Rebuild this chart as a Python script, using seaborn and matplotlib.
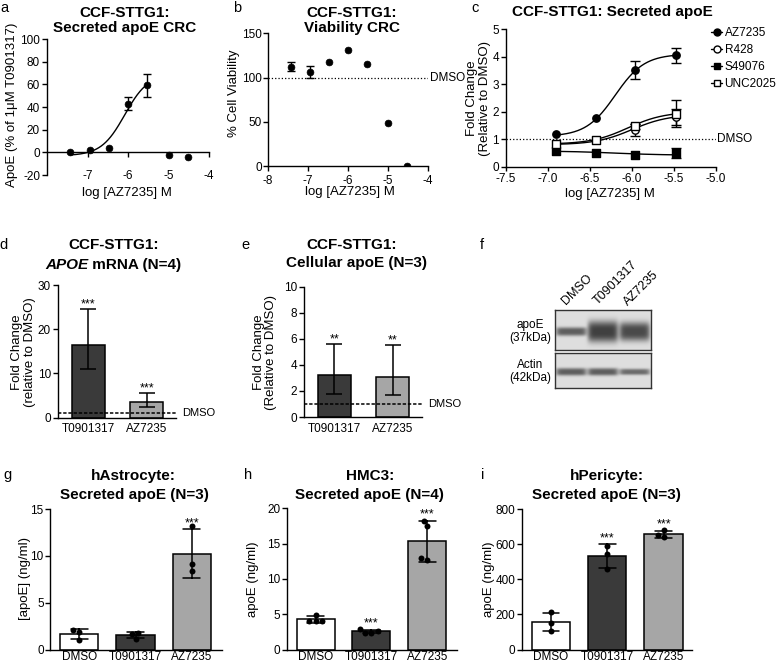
import numpy as np
import pandas as pd
import matplotlib
matplotlib.use("Agg")
import matplotlib.pyplot as plt
from matplotlib.lines import Line2D
import seaborn as sns

# ---------------- data ----------------
# a/b: concentration response curves, log [AZ7235] M
crc_logconc = [-7.43, -6.95, -6.48, -6.0, -5.52, -5.0, -4.52]
apoe_pct = [0.0, 2.5, 4.0, 43.0, 59.0, -2.5, -4.0]
apoe_pct_err = [0.0, 0.0, 0.0, 6.0, 10.0, 0.0, 0.0]
apoe_fit = (-3.0, 69.3, -6.08, 1.5)          # bottom, top, logEC50, hill
apoe_fit_span = (-7.43, -5.52)
viability = [112.0, 106.0, 117.5, 131.5, 115.5, 49.0, 0.0]
viability_err = [5.0, 7.0, 0.0, 0.0, 0.0, 0.0, 0.0]

# c: secreted apoE, fold change vs DMSO
c_logconc = [-6.9, -6.43, -5.96, -5.48]
c_compounds = ["AZ7235", "R428", "S49076", "UNC2025"]
c_az7235 = [1.2, 1.77, 3.52, 4.05]
c_az7235_err = [0.0, 0.0, 0.33, 0.27]
c_r428 = [0.84, 0.97, 1.33, 1.8]
c_r428_err = [0.0, 0.0, 0.22, 0.3]
c_s49076 = [0.56, 0.49, 0.41, 0.5]
c_s49076_err = [0.0, 0.0, 0.0, 0.18]
c_unc2025 = [0.83, 0.98, 1.47, 1.93]
c_unc2025_err = [0.0, 0.0, 0.1, 0.48]
c_fits = [(1.1, 4.1, -6.2, 2.5), (0.8, 1.9, -6.0, 2.0),
          (0.57, 0.42, -6.2, 1.5), (0.82, 2.0, -6.05, 2.0)]

# d/e: fold change bars (mean, lower/upper error)
de_labels = ["T0901317", "AZ7235"]
d_mean = [16.5, 3.6]
d_low = [11.0, 2.4]
d_high = [24.6, 5.5]
e_mean = [3.2, 3.05]
e_low = [1.8, 1.7]
e_high = [5.6, 5.5]

# f: western blot band darkness per lane
blot_lanes = ["DMSO", "T0901317", "AZ7235"]
apoe_band_dark = [0.5, 0.62, 0.58]
apoe_band_height = [0.11, 0.27, 0.24]
actin_band_dark = [0.5, 0.5, 0.45]
actin_band_height = [0.11, 0.11, 0.09]

# g/h/i: secreted apoE (ng/ml), individual replicates
groups = ["DMSO", "T0901317", "AZ7235"]
g_vals = [[2.05, 1.82, 1.05], [1.75, 1.16, 1.65], [13.2, 9.1, 8.4]]
h_vals = [[4.95, 4.05, 4.0, 4.1], [2.9, 2.6, 2.4, 2.4], [18.2, 17.5, 12.9, 12.7]]
i_vals = [[211, 150, 106], [592, 546, 458], [680, 650, 641]]
g_stars = ["", "", "***"]
h_stars = ["", "***", "***"]
i_stars = ["", "***", "***"]

DARK, LIGHT = "#3a3a3a", "#a6a6a6"

# ---------------- style ----------------
sns.set_style("ticks")
plt.rcParams["font.family"] = ["Liberation Sans", "DejaVu Sans"]
plt.rcParams["axes.unicode_minus"] = False
plt.rcParams["axes.linewidth"] = 1.0
plt.rcParams["axes.edgecolor"] = "black"
plt.rcParams["xtick.color"] = "black"
plt.rcParams["ytick.color"] = "black"
plt.rcParams["text.color"] = "black"
plt.rcParams["axes.labelcolor"] = "black"

W, H = 778, 666
fig = plt.figure(figsize=(W / 100, H / 100), dpi=100)


def add_ax(box):
    l, t, r, b = box
    return fig.add_axes([l / W, 1 - b / H, (r - l) / W, (b - t) / H])


def ftext(x, y, s, **kw):
    return fig.text(x / W, 1 - y / H, s, **kw)


def title(x, y, s):
    ftext(x, y, s, ha="center", va="center", fontsize=11, fontweight="bold")


def ylabel_at(ax, box, text, x, y):
    l, t, r, b = box
    ax.set_ylabel(text, fontsize=9.5, va="center", ha="center", linespacing=1.05)
    ax.yaxis.set_label_coords((x - l) / (r - l), (b - y) / (b - t))


def xlabel_at(ax, box, text, x, y):
    l, t, r, b = box
    ax.set_xlabel(text, fontsize=9.5, va="center", ha="center")
    ax.xaxis.set_label_coords((x - l) / (r - l), (b - y) / (b - t))


def logistic(x, lo, hi, logec50, hill):
    return lo + (hi - lo) / (1 + 10 ** ((logec50 - x) * hill))


def style_ax(ax):
    sns.despine(ax=ax)
    ax.tick_params(labelsize=8.5, length=3.5, width=1, pad=1.5)


def err_points(ax, x, y, err, capsize=3):
    x, y, err = np.asarray(x), np.asarray(y), np.asarray(err)
    m = err > 0
    ax.errorbar(x[m], y[m], yerr=err[m], fmt="none", ecolor="black",
                elinewidth=1, capsize=capsize, capthick=1, zorder=2)


# ---------------- a ----------------
box_a = (47, 39, 209, 175)
ax = add_ax(box_a)
xs = np.linspace(*apoe_fit_span, 200)
sns.lineplot(x=xs, y=logistic(xs, *apoe_fit), color="black", linewidth=1, ax=ax)
err_points(ax, crc_logconc, apoe_pct, apoe_pct_err)
sns.scatterplot(x=crc_logconc, y=apoe_pct, color="black", s=24, edgecolor="black",
                linewidth=0.5, ax=ax, zorder=4)
ax.set_xlim(-8, -4)
ax.set_ylim(-20, 100)
ax.set_xticks([-7, -6, -5, -4])
ax.set_yticks(range(-20, 101, 20))
style_ax(ax)
ax.spines["bottom"].set_position(("data", 0))
ax.tick_params(axis="x", pad=9)
ylabel_at(ax, box_a, "ApoE (% of 1μM T0901317)", 12, 105)
xlabel_at(ax, box_a, "log [AZ7235] M", 127, 193)
title(125, 13, "CCF-STTG1:")
title(125, 28, "Secreted apoE CRC")

# ---------------- b ----------------
box_b = (268, 33.3, 428, 166)
ax = add_ax(box_b)
ax.axhline(100, color="black", linestyle=":", linewidth=0.9)
err_points(ax, crc_logconc, viability, viability_err)
sns.scatterplot(x=crc_logconc, y=viability, color="black", s=24, edgecolor="black",
                linewidth=0.5, ax=ax, zorder=4)
ax.set_xlim(-8, -4)
ax.set_ylim(0, 150)
ax.set_xticks([-8, -7, -6, -5, -4])
ax.set_yticks([0, 50, 100, 150])
style_ax(ax)
ax.tick_params(axis="y", pad=1)
ax.tick_params(axis="x", pad=3)
ftext(430, 77.7, "DMSO", ha="left", va="center", fontsize=8.5)
ylabel_at(ax, box_b, "% Cell Viability", 234.5, 93)
xlabel_at(ax, box_b, "log [AZ7235] M", 350, 192)
title(352, 13, "CCF-STTG1:")
title(352, 28, "Viability CRC")

# ---------------- c ----------------
box_c = (506, 29.3, 716, 166.7)
ax = add_ax(box_c)
ax.axhline(1, color="black", linestyle=":", linewidth=0.9)
c_means = [c_az7235, c_r428, c_s49076, c_unc2025]
c_errs = [c_az7235_err, c_r428_err, c_s49076_err, c_unc2025_err]
c_markers = ["o", "o", "s", "s"]
c_faces = ["black", "white", "black", "white"]
xs = np.linspace(c_logconc[0], c_logconc[-1], 200)
handles = []
for mean, err, fit, mk, fc in zip(c_means, c_errs, c_fits, c_markers, c_faces):
    sns.lineplot(x=xs, y=logistic(xs, *fit), color="black", linewidth=1, ax=ax, zorder=1)
    err_points(ax, c_logconc, mean, err, capsize=3.5)
    sns.scatterplot(x=c_logconc, y=mean, marker=mk, color=fc, edgecolor="black",
                    linewidth=1, s=28, ax=ax, zorder=4)
    handles.append(Line2D([0], [0], color="black", linewidth=1, marker=mk,
                          markerfacecolor=fc, markeredgecolor="black", markersize=5))
ax.set_xlim(-7.5, -5.0)
ax.set_ylim(0, 5)
ax.set_xticks(np.arange(-7.5, -4.99, 0.5))
ax.set_xticklabels([f"{v:.1f}" for v in np.arange(-7.5, -4.99, 0.5)])
ax.set_yticks(range(0, 6))
style_ax(ax)
ax.tick_params(axis="x", length=3, pad=1.5)
ftext(717, 139.3, "DMSO", ha="left", va="center", fontsize=8.5)
fig.legend(handles, c_compounds, loc="upper left", bbox_to_anchor=(711 / W, 1 - 27.5 / H),
           frameon=False, fontsize=8.5, handlelength=0.95, handletextpad=0.2,
           labelspacing=0.42, borderpad=0, borderaxespad=0)
ylabel_at(ax, box_c, "Fold Change\n(Relative to DMSO)", 478.5, 98)
xlabel_at(ax, box_c, "log [AZ7235] M", 610, 194)
title(612, 12, "CCF-STTG1: Secreted apoE")


# ---------------- d / e ----------------
def fold_bars(box, mean, low, high, stars, ymax, yticks, dmso_x, ylab, ylab_x):
    ax = add_ax(box)
    sns.barplot(x=de_labels, y=mean, hue=de_labels, palette=[DARK, LIGHT],
                edgecolor="black", linewidth=1.1, width=0.57, errorbar=None,
                legend=False, ax=ax)
    mean, low, high = map(np.asarray, (mean, low, high))
    ax.errorbar(range(len(mean)), mean, yerr=[mean - low, high - mean], fmt="none",
                ecolor="black", elinewidth=1.1, capsize=6, capthick=1.1, zorder=3)
    ax.axhline(1, color="black", linestyle=(0, (2.2, 1.2)), linewidth=1.1, zorder=4)
    for i, h in enumerate(high):
        ax.annotate(stars, (i, h), xytext=(0, -1), textcoords="offset points",
                    ha="center", va="bottom", fontsize=9)
    ax.set_xlim(-0.52, 1.5)
    ax.set_ylim(0, ymax)
    ax.set_yticks(yticks)
    style_ax(ax)
    ax.tick_params(axis="x", length=0, pad=4)
    ax.set_xlabel("")
    ftext(dmso_x, box[3] - (box[3] - box[1]) / ymax, "DMSO", ha="left",
          va="center", fontsize=8)
    ylabel_at(ax, box, ylab, ylab_x, 352)
    return ax


fold_bars((58, 285, 176, 417.5), d_mean, d_low, d_high, "***", 30, [0, 10, 20, 30],
          182.5, "Fold Change\n(relative to DMSO)", 23.5)
fold_bars((304, 286.7, 421.7, 417), e_mean, e_low, e_high, "**", 10, range(0, 11, 2),
          428.5, "Fold Change\n(Relative to DMSO)", 265)
title(113.5, 245, "CCF-STTG1:")
t1 = ftext(0, 265, "APOE", ha="left", va="center", fontsize=11, fontweight="bold",
           fontstyle="italic")
t2 = ftext(0, 265, " mRNA (N=4)", ha="left", va="center", fontsize=11, fontweight="bold")
rend = fig.canvas.get_renderer()
w1 = t1.get_window_extent(rend).width
w2 = t2.get_window_extent(rend).width
x0 = 113.5 - (w1 + w2) / 2
t1.set_x(x0 / W)
t2.set_x((x0 + w1) / W)
title(352, 245, "CCF-STTG1:")
title(356, 263.5, "Cellular apoE (N=3)")


# ---------------- f: western blot ----------------
def blot_image(dark, height, rows=40, cols=96, bg=0.87):
    yy, xx = np.mgrid[0:1:rows * 1j, 0:1:cols * 1j]
    img = np.full((rows, cols), bg)
    n = len(dark)
    for k in range(n):
        xc = (k + 0.5) / n
        gx = np.exp(-((xx - xc) / (0.48 / n)) ** 8)
        gy = np.exp(-(np.abs(yy - 0.54) / height[k]) ** 3)
        img -= dark[k] * gx * gy
    return np.clip(img, 0, 1)


for box, dark, hgt in [((555, 310, 650.7, 350), apoe_band_dark, apoe_band_height),
                       ((555, 353.3, 650.7, 388.3), actin_band_dark, actin_band_height)]:
    ax = add_ax(box)
    ax.imshow(blot_image(dark, hgt), cmap="gray", vmin=0, vmax=1, aspect="auto",
              interpolation="bilinear", extent=(0, 1, 1, 0))
    ax.set_xticks([])
    ax.set_yticks([])
    for s in ax.spines.values():
        s.set_color("#333333")
        s.set_linewidth(1)
ftext(530, 331.7, "apoE\n(37kDa)", ha="center", va="center", fontsize=8.5, linespacing=1.1)
ftext(530, 371.7, "Actin\n(42kDa)", ha="center", va="center", fontsize=8.5, linespacing=1.1)
for lane, (lx, ly) in zip(blot_lanes, [(568, 307), (600, 307), (630, 308)]):
    ftext(lx, ly, lane, ha="left", va="bottom", rotation=45, rotation_mode="anchor",
          fontsize=9)


# ---------------- g / h / i ----------------
def replicate_bars(box, values, stars, ymax, yticks, xlim_right):
    ax = add_ax(box)
    df = pd.DataFrame({
        "treatment": np.repeat(groups, [len(v) for v in values]),
        "value": np.concatenate(values),
    })
    sns.barplot(data=df, x="treatment", y="value", hue="treatment", order=groups,
                hue_order=groups, palette=["white", DARK, LIGHT], errorbar="sd",
                capsize=0.3, err_kws={"color": "black", "linewidth": 1.1},
                edgecolor="black", linewidth=1.1, width=0.68, legend=False, ax=ax)
    sns.swarmplot(data=df, x="treatment", y="value", order=groups, color="black",
                  size=4.3, ax=ax, zorder=5)
    for i, v in enumerate(values):
        if stars[i]:
            top = np.mean(v) + np.std(v, ddof=1)
            ax.annotate(stars[i], (i, top), xytext=(0, 0), textcoords="offset points",
                        ha="center", va="bottom", fontsize=9)
    ax.set_xlim(-0.52, xlim_right)
    ax.set_ylim(0, ymax)
    ax.set_yticks(yticks)
    style_ax(ax)
    ax.tick_params(axis="y", pad=1)
    ax.tick_params(axis="x", length=0, pad=1)
    ax.set_xlabel("")
    return ax


box_g = (50, 509, 221.7, 649.5)
box_h = (286.7, 508.3, 456.7, 649.5)
box_i = (521.7, 509, 691.7, 649.5)
ax = replicate_bars(box_g, g_vals, g_stars, 15, [0, 5, 10, 15], 2.53)
ylabel_at(ax, box_g, "[apoE] (ng/ml)", 25, 579)
ax = replicate_bars(box_h, h_vals, h_stars, 20, range(0, 21, 5), 2.53)
ylabel_at(ax, box_h, "apoE (ng/ml)", 253, 579)
ax = replicate_bars(box_i, i_vals, i_stars, 800, range(0, 801, 200), 2.5)
ylabel_at(ax, box_i, "apoE (ng/ml)", 489, 579)
title(133.5, 476, "hAstrocyte:")
title(134, 495, "Secreted apoE (N=3)")
title(370, 476, "HMC3:")
title(369.5, 495, "Secreted apoE (N=4)")
title(606.5, 476, "hPericyte:")
title(606, 495, "Secreted apoE (N=3)")

# panel letters
for letter, (lx, ly) in zip("abcdefghi", [(4, 8), (237, 8), (475, 8), (4, 245), (245, 245),
                                          (482, 245), (7, 475), (248, 475), (483, 475)]):
    ftext(lx, ly, letter, ha="center", va="center", fontsize=10.5)

fig.savefig("out.png", dpi=100)
